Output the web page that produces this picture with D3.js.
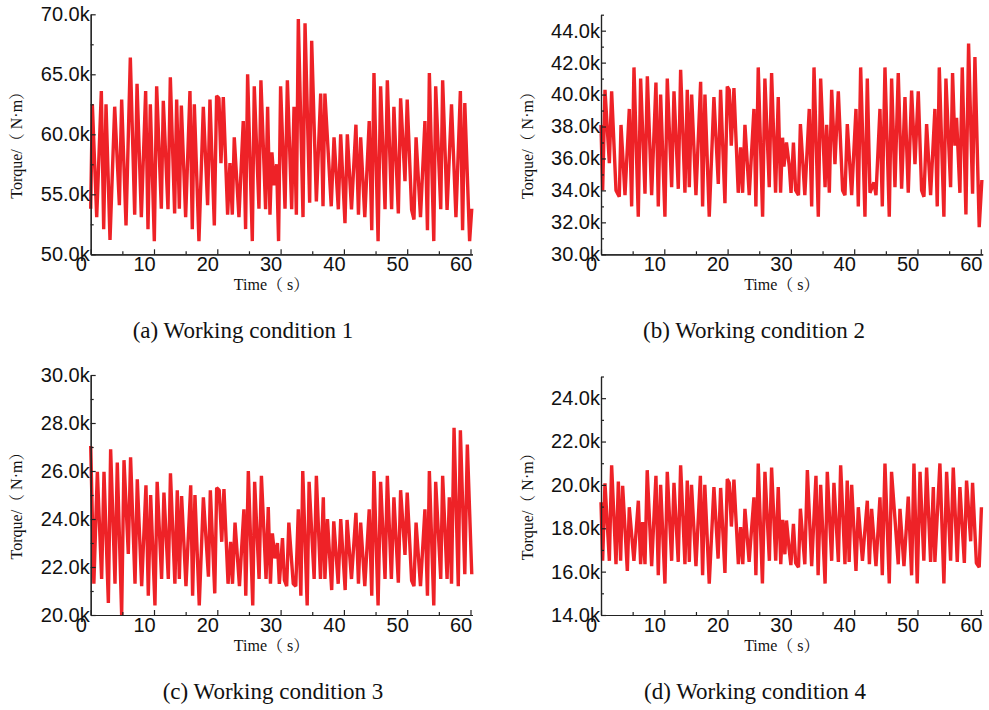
<!DOCTYPE html>
<html>
<head>
<meta charset="utf-8">
<script src="https://cdn.jsdelivr.net/npm/d3@7"></script>
<style>
  body { margin: 0; background: #fff; }
  svg { display: block; }
</style>
</head>
<body>
<script>
// torque samples, in k N·m
const tA = [0.0,0.26,0.95,1.68,2.05,2.42,3.05,3.79,4.53,4.89,5.58,6.26,6.95,7.32,8.0,8.68,9.05,9.42,10.05,10.42,
  11.16,11.47,12.21,12.58,13.26,13.58,14.0,14.32,15.0,15.68,16.05,16.37,17.1,17.79,18.47,18.84,19.53,19.89,20.26,20.58,
  20.95,21.63,22.0,22.37,22.68,23.42,24.1,24.47,24.79,25.53,25.84,26.58,26.89,27.63,27.95,28.32,28.63,29.0,29.37,29.68,
  30.0,30.7,31.07,31.75,32.12,32.49,32.8,33.54,33.86,34.59,34.91,35.65,36.33,36.7,37.0,38.0,38.44,39.12,39.49,40.17,
  40.54,41.2,41.9,42.3,42.65,43.3,44.0,44.4,44.75,45.4,45.8,46.5,46.86,47.54,47.9,48.6,48.96,49.65,50.0,50.7,
  51.07,51.4,52.1,52.8,53.2,53.5,54.2,54.5,55.3,55.6,56.3,57.0,57.7,58.4,58.75,59.1,59.86,60.2];
const vA = [53.8,62.5,53.1,63.6,52.1,62.5,51.2,62.3,54.1,62.9,52.4,66.4,53.3,64.2,53.1,63.6,52.1,62.5,51.1,64.0,
  53.8,62.8,53.75,64.75,53.4,62.9,53.8,62.4,53.1,63.6,52.1,62.5,51.1,62.3,54.1,62.9,52.4,63.2,63.0,57.6,
  63.1,53.3,57.6,53.3,59.75,53.1,61.1,52.1,65.0,51.1,64.0,53.8,64.5,53.75,62.3,53.3,58.5,55.75,57.5,51.1,
  64.0,53.8,64.5,53.75,62.3,53.3,69.6,53.1,69.25,54.3,67.8,54.4,63.4,54.0,63.4,54.0,59.75,53.75,60.0,52.6,
  60.0,53.75,60.8,53.3,59.75,53.1,61.1,52.0,65.1,51.1,64.0,53.75,64.5,53.75,62.3,53.4,63.0,56.1,62.9,53.7,
  52.9,59.75,53.1,61.1,52.0,65.1,51.1,64.0,53.75,64.5,53.7,62.5,53.1,63.6,52.0,62.6,51.1,53.8];

const tB = [0,0.26,0.63,1.32,1.68,2.37,2.89,3.16,3.79,4.47,4.84,5.21,5.89,6.26,6.95,7.32,8.0,8.68,9.05,9.42,
  10.1,10.47,11.16,11.53,12.21,12.58,13.26,13.63,13.95,14.32,15.0,15.74,16.05,16.42,17.1,17.84,18.53,18.89,19.58,19.95,
  20.26,20.58,21.0,21.68,22.05,22.37,22.74,23.42,24.16,24.47,24.84,25.53,25.89,26.58,26.95,27.58,28.0,28.37,28.68,28.9,
  29.3,29.75,30.02,30.4,30.75,31.2,31.5,32.2,32.9,33.28,33.65,34.33,34.7,35.4,35.65,36.07,36.44,36.96,37.49,38.17,
  38.54,38.91,39.6,40.28,40.65,41.02,41.7,42.07,42.49,43.12,43.44,44.07,44.44,44.86,45.54,45.91,46.44,46.96,47.49,48.02,
  48.54,49.07,49.6,50.12,50.65,51.02,51.44,52.07,52.75,53.12,53.44,54.17,54.49,55.23,55.54,55.91,56.17,56.7,57.07,57.65,
  58.07,58.7,59.07,59.75,60.17];
const vB = [38.1,34.0,40.3,35.7,40.2,34.0,33.6,38.1,33.7,39.1,33.0,41.7,32.35,41.0,33.8,41.15,33.7,40.75,33.0,40.0,
  32.35,41.0,34.2,40.2,34.1,41.55,33.85,40.3,34.2,40.0,33.7,40.8,33.0,40.0,32.35,39.85,34.4,40.3,33.2,40.5,
  40.3,36.8,40.4,33.85,36.7,33.85,38.1,33.7,39.1,33.0,41.7,32.35,41.0,34.2,41.35,33.85,39.85,33.85,37.3,35.5,
  37.0,35.5,33.85,37.0,34.0,33.7,38.15,33.7,39.1,33.0,41.7,32.35,41.0,34.2,38.1,33.85,40.3,35.65,40.2,34.0,
  33.7,38.15,33.7,39.1,33.0,41.7,32.35,41.0,33.85,34.5,33.7,39.1,33.0,41.7,32.35,41.0,34.2,41.35,34.1,39.85,
  33.85,40.25,35.65,40.2,34.0,33.6,38.15,33.7,39.1,33.0,41.7,32.35,41.0,34.2,41.35,36.8,38.55,33.85,41.7,32.5,
  43.2,33.8,42.35,31.7,34.65];

const tC = [0,0.5,1.05,1.73,2.1,2.79,3.15,3.84,4.2,4.89,5.26,5.94,6.3,7.0,7.36,8.05,8.73,9.1,9.47,10.15,
  10.5,11.2,11.57,12.26,12.6,13.3,13.68,14.0,14.36,15.05,15.8,16.1,16.47,17.15,17.8,18.6,18.9,19.6,19.9,20.3,
  20.7,21.05,21.7,22.1,22.4,22.8,23.5,24.2,24.5,24.9,25.6,25.9,26.6,26.97,27.7,28.05,28.4,28.7,29.1,29.5,
  29.8,30.3,30.6,30.96,31.3,32.0,32.4,32.8,33.2,33.5,34.2,34.5,35.3,35.65,36.3,36.75,37.0,37.4,38.07,38.4,
  39.1,39.5,40.2,40.5,41.2,41.9,42.3,42.65,43.3,44.0,44.4,44.75,45.4,45.8,46.5,46.86,47.5,47.9,48.6,48.96,
  49.65,50.0,50.7,51.07,51.4,52.1,52.8,53.2,53.5,54.2,54.5,55.3,55.6,56.3,56.65,57.0,57.4,58.07,58.4,59.1,
  59.5,60.2];
const vC = [27.04,21.3,25.97,21.5,25.97,20.5,26.9,21.3,26.35,20.0,26.45,22.54,26.57,21.3,25.65,21.2,25.4,20.8,25.0,20.4,
  25.55,21.5,25.1,21.5,25.9,21.3,25.2,21.5,24.96,21.2,25.4,20.8,25.0,20.4,24.9,21.6,25.2,20.9,25.3,25.2,
  23.05,25.25,21.3,23.05,21.3,23.85,21.2,24.4,20.8,26.0,20.4,25.55,21.5,25.8,21.5,24.5,21.3,23.4,22.36,23.0,
  21.3,23.2,21.45,21.2,23.85,21.3,21.2,24.4,20.8,26.0,20.4,25.55,21.5,25.8,21.5,24.9,21.5,24.0,21.04,23.9,
  21.3,24.0,21.04,23.96,21.5,24.26,21.3,23.85,21.2,24.4,20.8,26.0,20.4,25.55,21.5,25.8,21.5,24.9,21.35,25.2,
  22.5,25.1,21.43,21.2,23.85,21.2,24.4,20.8,26.0,20.4,25.55,21.5,25.8,21.5,24.9,21.3,27.8,21.2,27.7,21.7,
  27.1,21.7];

const tD = [0,0.26,0.63,1.32,1.68,2.37,2.74,3.1,3.42,4.16,4.47,5.2,5.9,6.26,6.58,6.95,7.3,8.0,8.68,9.05,
  9.42,10.1,10.47,11.16,11.53,12.2,12.58,13.26,13.63,13.95,14.3,15.0,15.7,16.05,16.4,17.1,17.84,18.5,18.9,19.58,
  19.95,20.26,20.6,21.0,21.7,22.05,22.4,22.74,23.4,24.16,24.47,24.84,25.5,25.9,26.6,26.95,27.6,28.0,28.4,28.7,
  29.05,29.3,29.7,30.0,30.4,30.75,31.2,31.5,32.2,32.6,33.28,33.96,34.3,34.7,35.4,35.75,36.44,36.8,37.5,37.86,
  38.54,38.9,39.2,39.6,40.28,40.65,41.3,42.07,42.4,42.75,43.44,44.07,44.44,44.86,45.54,45.9,46.96,47.23,47.86,48.54,
  49.07,49.44,49.96,50.4,51.0,51.44,52.07,52.5,52.75,53.54,54.17,54.6,55.23,55.65,56.28,56.7,57.4,57.75,58.4,58.7,
  59.3,59.75,60.1];
const vD = [19.2,16.5,20.07,16.5,20.9,16.34,20.16,16.5,19.96,16.03,18.97,16.5,19.27,16.34,18.28,16.34,20.68,16.25,20.42,15.83,
  20.0,15.45,20.6,16.5,20.1,16.45,20.9,16.34,20.2,16.45,20.0,16.25,20.42,15.83,20.0,15.45,19.9,16.6,19.86,15.94,
  20.27,20.1,18.08,20.24,16.34,18.05,16.34,18.9,16.45,19.43,15.83,20.99,15.45,20.6,16.5,20.8,16.5,19.9,16.34,18.39,
  16.8,18.36,17.1,16.3,18.2,16.4,16.2,18.9,16.34,20.68,16.25,20.42,15.83,20.0,15.45,20.6,16.5,20.1,16.45,20.9,
  16.34,20.2,16.45,20.0,16.03,18.97,16.5,19.27,16.34,18.9,16.25,19.43,15.83,20.99,15.45,20.6,16.34,18.9,16.25,19.46,
  15.83,20.99,15.45,20.6,16.5,20.8,16.45,19.9,16.45,20.99,15.45,20.6,16.5,20.8,16.45,19.9,16.4,20.2,17.4,20.1,
  16.4,16.2,18.97];

const captions = ["(a) Working condition 1", "(b) Working condition 2", "(c) Working condition 3", "(d) Working condition 4"];
const xMajor = [0, 10, 20, 30, 40, 50, 60];
const xMinor = [5, 15, 25, 35, 45, 55];
const timeDomain = [0, 60.3];

const width = 989, height = 710;
const svg = d3.select("body").append("svg")
  .attr("width", width)
  .attr("height", height);

const panels = [
  { t: tA, v: vA, yDomain: [50, 70], step: 5, left: 90.7, top: 14.3, bottom: 254.3, cap: captions[0], capX: 243, capY: 338 },
  { t: tB, v: vB, yDomain: [30, 45], step: 2, left: 601, top: 14.7, bottom: 254.3, cap: captions[1], capX: 754, capY: 338 },
  { t: tC, v: vC, yDomain: [20, 30], step: 2, left: 90.7, top: 375, bottom: 615, cap: captions[2], capX: 273, capY: 699 },
  { t: tD, v: vD, yDomain: [14, 25], step: 2, left: 601, top: 376.5, bottom: 615, cap: captions[3], capX: 755, capY: 699 }
];

const sans = "'Liberation Sans', Arial, sans-serif";
const serif = "'Liberation Serif', 'Times New Roman', 'Noto Serif CJK SC', 'Noto Sans CJK SC', serif";

function styleAxis(g) {
  g.attr("font-family", sans).attr("font-size", 20);
  g.selectAll("path, line").attr("stroke", "#222").attr("stroke-width", 1.2);
  g.selectAll("text").attr("fill", "#111");
}

panels.forEach(p => {
  const x = d3.scaleLinear().domain(timeDomain).range([p.left, p.left + 381.7]);
  const y = d3.scaleLinear().domain(p.yDomain).range([p.bottom, p.top]);
  const g = svg.append("g");

  // the torque trace
  g.append("path")
    .datum(d3.zip(p.t, p.v))
    .attr("fill", "none")
    .attr("stroke", "#ee2227")
    .attr("stroke-width", 3.4)
    .attr("stroke-linejoin", "bevel")
    .attr("d", d3.line().x(d => x(d[0])).y(d => y(d[1])));

  const yMajor = d3.range(p.yDomain[0], p.yDomain[1] + 0.01, p.step);
  const yMinor = d3.range(p.yDomain[0] + p.step / 2, p.yDomain[1] + 0.01, p.step);

  // minor ticks first, then the labelled ones
  g.append("g")
    .attr("transform", `translate(${p.left},0)`)
    .call(d3.axisLeft(y).tickValues(yMinor).tickFormat("").tickSizeInner(-3).tickSizeOuter(0))
    .call(styleAxis);
  g.append("g")
    .attr("transform", `translate(${p.left},0)`)
    .call(d3.axisLeft(y).tickValues(yMajor).tickFormat(d => d.toFixed(1) + "k")
      .tickSizeInner(-5).tickSizeOuter(0).tickPadding(1))
    .call(styleAxis);

  g.append("g")
    .attr("transform", `translate(0,${p.bottom})`)
    .call(d3.axisBottom(x).tickValues(xMinor).tickFormat("").tickSizeInner(-3).tickSizeOuter(0))
    .call(styleAxis);
  g.append("g")
    .attr("transform", `translate(0,${p.bottom})`)
    .call(d3.axisBottom(x).tickValues(xMajor).tickSizeInner(-5).tickSizeOuter(0).tickPadding(2.5))
    .call(styleAxis)
    .selectAll("text").attr("x", -10);

  // axis titles
  g.append("text")
    .attr("x", (x.range()[0] + x.range()[1]) / 2 - 10)
    .attr("y", p.bottom + 36)
    .attr("text-anchor", "middle")
    .attr("font-family", serif)
    .attr("font-size", 16)
    .attr("fill", "#111")
    .text("Time（ s）");

  g.append("text")
    .attr("transform", `translate(${p.left - 74},${(p.top + p.bottom) / 2 + 7}) rotate(-90)`)
    .attr("dy", "0.35em")
    .attr("text-anchor", "middle")
    .attr("font-family", serif)
    .attr("font-size", 16)
    .attr("fill", "#111")
    .text("Torque/（ N·m）");

  g.append("text")
    .attr("x", p.capX)
    .attr("y", p.capY)
    .attr("text-anchor", "middle")
    .attr("font-family", serif)
    .attr("font-size", 23)
    .attr("fill", "#111")
    .text(p.cap);
});
</script>
</body>
</html>
